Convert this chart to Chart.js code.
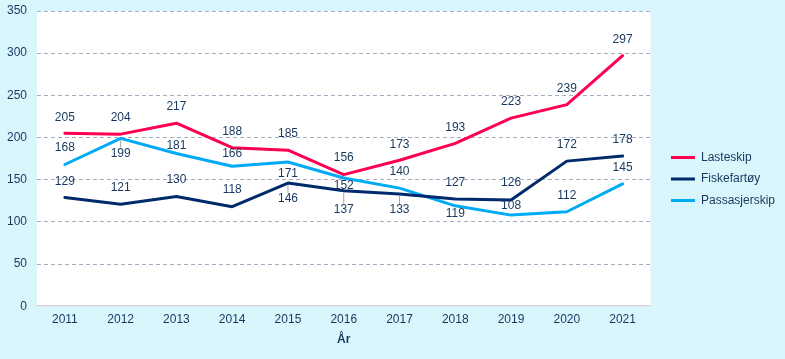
<!DOCTYPE html>
<html>
<head>
<meta charset="utf-8">
<script src="https://cdn.jsdelivr.net/npm/chart.js@4.4.1/dist/chart.umd.min.js"></script>
<style>
  html, body { margin: 0; padding: 0; background: #d9f6fd; }
  #wrap { width: 785px; height: 359px; }
</style>
</head>
<body>
<div id="wrap"><canvas id="chart" width="785" height="359"></canvas></div>
<script>
const years = ['2011', '2012', '2013', '2014', '2015', '2016', '2017', '2018', '2019', '2020', '2021'];
const lasteskip = [205, 204, 217, 188, 185, 156, 173, 193, 223, 239, 297];
const fiskefartoy = [129, 121, 130, 118, 146, 137, 133, 127, 126, 172, 178];
const passasjerskip = [168, 199, 181, 166, 171, 152, 140, 119, 108, 112, 145];

// plassering av dataetiketter (px i forhold til punktet), og hvor det er ledelinje
const offsLaste = [-16, -16, -16, -16, -16, -17, -16, -16, -16, -16, -16];
const offsFiske = [-16, -16, -17, -17, 16, 19, 16, -16, -17, -16, -16];
const offsPass = [-17, 15, -8, -13, 12, 8, -16, 8, -9, -16, -16];
const leaderFiske = [false, false, false, false, true, true, true, false, false, false, false];
const leaderPass = [false, true, false, false, false, false, false, false, false, false, false];

const textColor = '#17375e';
const fontFamily = '"Liberation Sans", Arial, sans-serif';

const bgPlugin = {
    id: 'bg',
    beforeDraw(chart) {
        const { ctx, chartArea: a } = chart;
        ctx.save();
        ctx.fillStyle = '#d9f6fd';
        ctx.fillRect(0, 0, chart.width, chart.height);
        ctx.fillStyle = '#ffffff';
        ctx.fillRect(a.left, a.top, a.right - a.left, a.bottom - a.top);
        ctx.restore();
    }
};

const labelPlugin = {
    id: 'vals',
    afterDatasetsDraw(chart) {
        const ctx = chart.ctx;
        ctx.save();
        ctx.font = '12px ' + fontFamily;
        ctx.textAlign = 'center';
        ctx.textBaseline = 'middle';
        chart.data.datasets.forEach((ds, di) => {
            const meta = chart.getDatasetMeta(di);
            meta.data.forEach((pt, i) => {
                const dy = ds.labelOffsets[i];
                const ly = pt.y + dy;
                if (ds.leaders && ds.leaders[i]) {
                    ctx.strokeStyle = '#a6a6a6';
                    ctx.lineWidth = 1;
                    ctx.beginPath();
                    ctx.moveTo(pt.x, pt.y + (dy > 0 ? 2 : -2));
                    ctx.lineTo(pt.x, ly + (dy > 0 ? -6 : 6));
                    ctx.stroke();
                }
                ctx.fillStyle = textColor;
                ctx.fillText(String(ds.data[i]), pt.x, ly);
            });
        });
        ctx.restore();
    }
};

new Chart(document.getElementById('chart'), {
    type: 'line',
    data: {
        labels: years,
        datasets: [
            { label: 'Lasteskip', data: lasteskip, borderColor: '#ff0050', backgroundColor: '#ff0050',
              labelOffsets: offsLaste },
            { label: 'Fiskefartøy', data: fiskefartoy, borderColor: '#002a6c', backgroundColor: '#002a6c',
              labelOffsets: offsFiske, leaders: leaderFiske },
            { label: 'Passasjerskip', data: passasjerskip, borderColor: '#00aaf5', backgroundColor: '#00aaf5',
              labelOffsets: offsPass, leaders: leaderPass }
        ]
    },
    options: {
        responsive: false,
        animation: false,
        devicePixelRatio: 1,
        layout: { padding: { left: 7, right: 0, top: 11, bottom: 12 } },
        elements: {
            line: { borderWidth: 3, tension: 0, borderCapStyle: 'round', borderJoinStyle: 'round' },
            point: { radius: 0, hoverRadius: 0 }
        },
        scales: {
            x: {
                offset: true,
                grid: { display: false, drawTicks: false },
                border: { display: true, color: '#d9d9d9', width: 1.5 },
                ticks: { color: textColor, font: { family: fontFamily, size: 12 }, padding: 6, maxRotation: 0 },
                title: { display: true, text: 'År', color: textColor, font: { family: fontFamily, size: 12, weight: 'bold' }, padding: { top: 0, bottom: 0 } }
            },
            y: {
                min: 0, max: 350,
                afterFit(axis) { axis.width = 30; axis.paddingTop = 0; axis.paddingBottom = 0; },
                ticks: { stepSize: 50, color: textColor, font: { family: fontFamily, size: 12 }, padding: 10 },
                grid: { drawTicks: false, color: c => c.tick && c.tick.value === 0 ? 'rgba(0,0,0,0)' : '#a3adc2', lineWidth: 1, borderDash: [4, 3] },
                border: { display: false, dash: [4, 3] }
            },
            spacer: {
                type: 'linear', position: 'right', display: true,
                grid: { display: false }, border: { display: false },
                ticks: { display: false },
                afterFit(axis) { axis.width = 11; axis.paddingTop = 0; axis.paddingBottom = 0; }
            }
        },
        plugins: {
            legend: {
                position: 'right',
                labels: {
                    color: textColor,
                    font: { family: fontFamily, size: 12 },
                    boxWidth: 24, boxHeight: 3, padding: 9.5,
                    generateLabels(chart) {
                        return chart.data.datasets.map((ds, i) => ({
                            text: ds.label, fillStyle: ds.borderColor, strokeStyle: ds.borderColor,
                            lineWidth: 0, fontColor: textColor, datasetIndex: i, hidden: false
                        }));
                    }
                }
            },
            tooltip: { enabled: false }
        }
    },
    plugins: [bgPlugin, labelPlugin]
});
</script>
</body>
</html>
